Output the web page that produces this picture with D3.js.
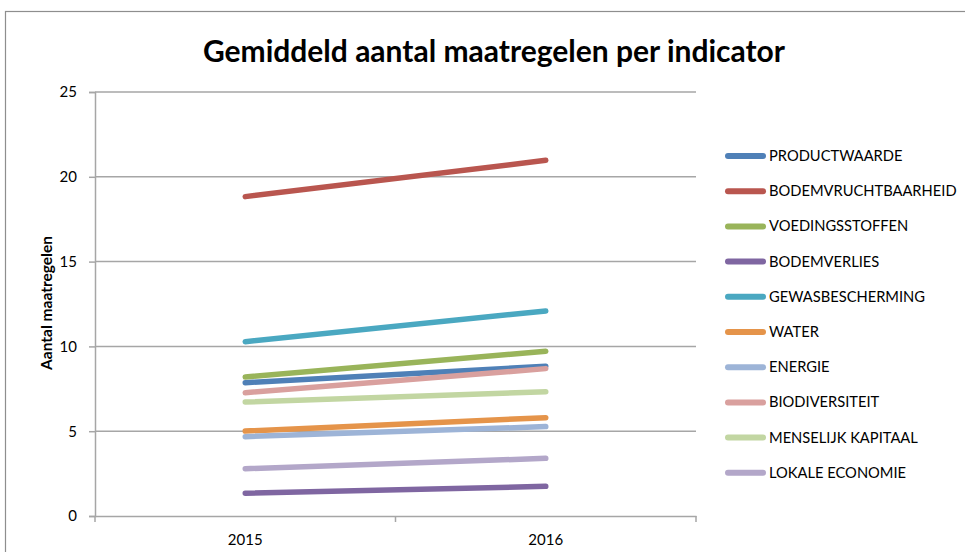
<!DOCTYPE html>
<html>
<head>
<meta charset="utf-8">
<script src="https://cdn.jsdelivr.net/npm/d3@7"></script>
<style>
  body { margin: 0; background: #fff; }
  svg { display: block; font-family: Lato, "Open Sans", sans-serif; }
</style>
</head>
<body>
<div id="chart"></div>
<script>
// chart data
var years = ["2015", "2016"];
var indicators = ["PRODUCTWAARDE", "BODEMVRUCHTBAARHEID", "VOEDINGSSTOFFEN", "BODEMVERLIES",
  "GEWASBESCHERMING", "WATER", "ENERGIE", "BIODIVERSITEIT", "MENSELIJK KAPITAAL", "LOKALE ECONOMIE"];
var values2015 = [7.86, 18.83, 8.2, 1.34, 10.28, 5.01, 4.68, 7.27, 6.72, 2.79];
var values2016 = [8.83, 20.97, 9.71, 1.75, 12.09, 5.8, 5.27, 8.69, 7.33, 3.4];
var colors = ["#4f80b7", "#b9564f", "#99b45a", "#7f66a1", "#4aa8c1", "#e5944a",
  "#9db4d7", "#d9a09e", "#c2d6a2", "#b3a7c9"];
var yTicks = [0, 5, 10, 15, 20, 25];

var chartW= 965, chartH= 552;
var plotLeft= 95, plotRight= 696, plotTop= 92, plotBottom= 516;

var svg= d3.select("#chart").append("svg")
  .attr("width", chartW)
  .attr("height", chartH);

// chart frame (cut off at the right and bottom)
svg.append("rect")
  .attr("x", 5.5).attr("y", 11.5)
  .attr("width", 1000).attr("height", 600)
  .attr("fill", "none")
  .attr("stroke", "#8e8e8e")
  .attr("stroke-width", 1.2);

svg.append("text")
  .attr("x", 494).attr("y", 62)
  .attr("text-anchor", "middle")
  .attr("font-size", "30px")
  .attr("font-weight", "bold")
  .text("Gemiddeld aantal maatregelen per indicator");

var x= d3.scaleBand().domain(years).range([plotLeft, plotRight]);
var y= d3.scaleLinear().domain([0, 25]).range([plotBottom, plotTop]);

// gridlines
svg.append("g").selectAll("line")
  .data(yTicks.filter(function(d) { return d> 0; }))
  .enter().append("line")
    .attr("x1", plotLeft).attr("x2", plotRight)
    .attr("y1", function(d) { return y(d); })
    .attr("y2", function(d) { return y(d); })
    .attr("stroke", "#a6a6a6")
    .attr("stroke-width", 1.5);

// y axis
var yAxis= svg.append("g")
  .attr("transform", "translate(" + plotLeft + ",0)")
  .call(d3.axisLeft(y).tickValues(yTicks).tickSize(6).tickPadding(12));
yAxis.selectAll("text").attr("font-size", "15px").attr("fill", "#000").attr("font-family", "Lato, sans-serif");

// x axis: ticks on category boundaries
var xAxis= svg.append("g")
  .attr("transform", "translate(0," + plotBottom + ")")
  .call(d3.axisBottom(x).tickSize(0).tickPadding(18));
xAxis.selectAll("text").attr("font-size", "15px").attr("fill", "#000").attr("font-family", "Lato, sans-serif");
xAxis.selectAll(".bound")
  .data([plotLeft, x("2016"), plotRight])
  .enter().append("line")
    .attr("class", "bound")
    .attr("x1", function(d) { return d; }).attr("x2", function(d) { return d; })
    .attr("y1", 0).attr("y2", 6)
    .attr("stroke", "#a6a6a6")
    .attr("stroke-width", 1.5);

svg.selectAll(".domain").attr("stroke", "#a6a6a6").attr("stroke-width", 1.5);
yAxis.selectAll(".tick line").attr("stroke", "#a6a6a6").attr("stroke-width", 1.5);

svg.append("text")
  .attr("transform", "translate(52,303) rotate(-90)")
  .attr("text-anchor", "middle")
  .attr("font-size", "15.5px")
  .attr("font-weight", "bold")
  .text("Aantal maatregelen");

// series lines
var line= d3.line()
  .x(function(d) { return x(d.year)+ x.bandwidth()/2; })
  .y(function(d) { return y(d.value); });

var series= indicators.map(function(name, i) {
  return { name: name, color: colors[i],
    points: [{ year: years[0], value: values2015[i] }, { year: years[1], value: values2016[i] }] };
});

svg.append("g").selectAll("path")
  .data(series)
  .enter().append("path")
    .attr("d", function(d) { return line(d.points); })
    .attr("fill", "none")
    .attr("stroke", function(d) { return d.color; })
    .attr("stroke-width", 5.5)
    .attr("stroke-linecap", "round");

// legend
var legend= svg.append("g").selectAll("g")
  .data(series)
  .enter().append("g")
    .attr("transform", function(d, i) { return "translate(726," + (156+ i*35.2) + ")"; });

legend.append("line")
  .attr("x1", 2).attr("x2", 37)
  .attr("stroke", function(d) { return d.color; })
  .attr("stroke-width", 6)
  .attr("stroke-linecap", "round");

legend.append("text")
  .attr("x", 43).attr("y", 5)
  .attr("font-size", "14.7px")
  .text(function(d) { return d.name; });
</script>
</body>
</html>
